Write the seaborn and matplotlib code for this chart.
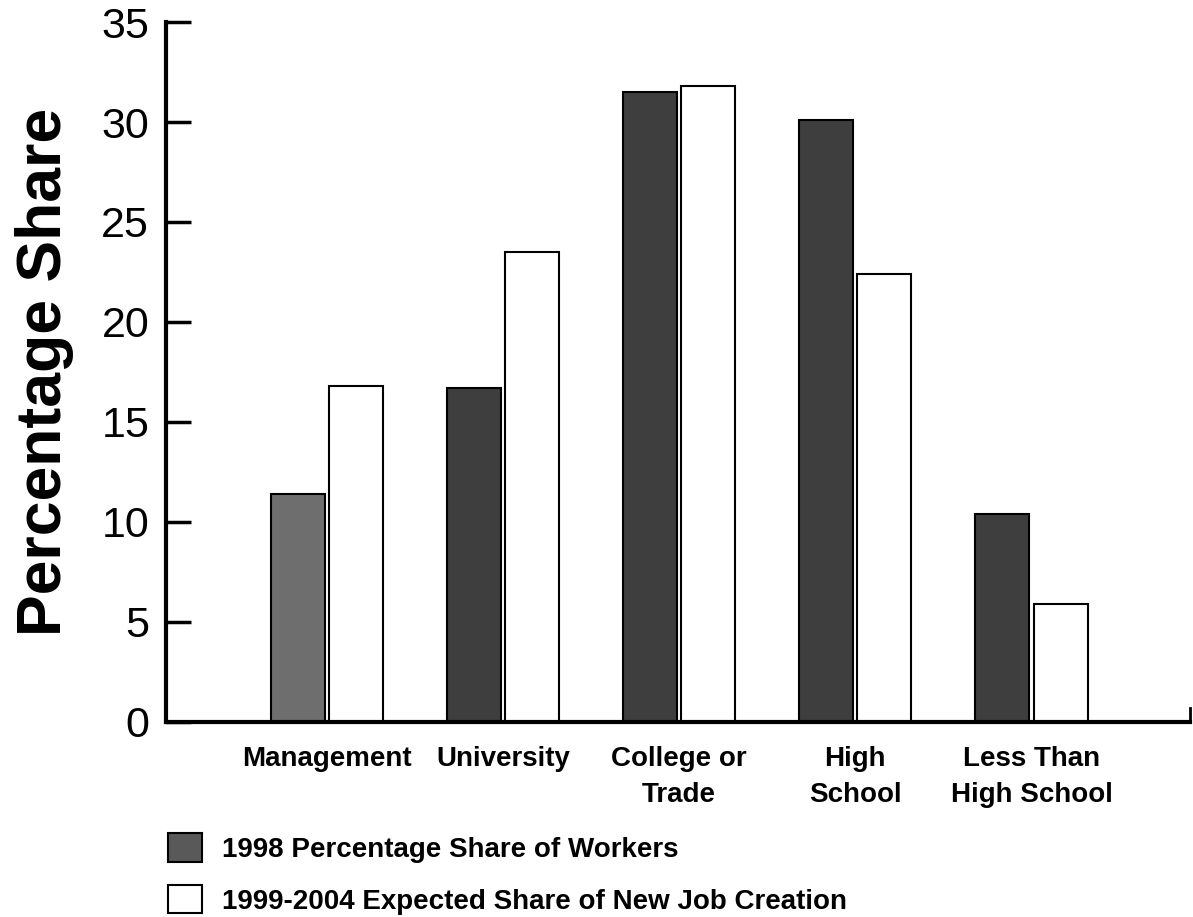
import pandas as pd
import matplotlib
matplotlib.use("Agg")
import matplotlib.pyplot as plt
import seaborn as sns

# values
categories = ["Management", "University", "College or\nTrade", "High\nSchool", "Less Than\nHigh School"]
share_1998 = [11.4, 16.7, 31.5, 30.1, 10.4]
share_new_jobs = [16.8, 23.5, 31.8, 22.4, 5.9]
series_names = ["1998 Percentage Share of Workers",
                "1999-2004 Expected Share of New Job Creation"]
y_ticks = [0, 5, 10, 15, 20, 25, 30, 35]

df = pd.DataFrame({
    "category": categories * 2,
    "share": share_1998 + share_new_jobs,
    "series": [series_names[0]] * len(categories) + [series_names[1]] * len(categories),
})

sns.set_style("white")
plt.rcParams["font.family"] = ["Liberation Sans", "DejaVu Sans"]
for key in ["text.color", "axes.labelcolor", "xtick.color", "ytick.color", "axes.edgecolor"]:
    plt.rcParams[key] = "black"

fig = plt.figure(figsize=(11.93, 9.17), dpi=100)
ax = fig.add_axes([0.139, 0.2127, 0.8585, 0.7633])

sns.barplot(data=df, x="category", y="share", hue="series",
            palette=["#3e3e3e", "white"], width=0.66, gap=0.07,
            edgecolor="black", linewidth=1.5, ax=ax)

# the management bar is printed a lighter grey in the scan
ax.patches[0].set_facecolor("#6e6e6e")

ax.set_xlim(-0.915, 4.9)
ax.set_ylim(0, 35)
ax.set_yticks(y_ticks)
ax.set_xlabel("")
ax.set_ylabel("Percentage Share", fontsize=45, fontweight="bold", labelpad=20)

ax.tick_params(axis="y", left=True, direction="in", length=18, width=2.5,
               labelsize=31, pad=12)
ax.tick_params(axis="x", length=0, labelsize=20, pad=17)
for lbl in ax.get_xticklabels():
    lbl.set_fontweight("bold")
    lbl.set_linespacing(1.5)

ax.spines["top"].set_visible(False)
ax.spines["left"].set_linewidth(3)
ax.spines["bottom"].set_linewidth(3)
ax.spines["right"].set_linewidth(2)
ax.spines["right"].set_bounds(0, 0.7)

handles, labels = ax.get_legend_handles_labels()
ax.get_legend().remove()
handles[0].set_facecolor("#595959")
fig.legend(handles, labels, loc="upper left", bbox_to_anchor=(0.1408, 0.0915),
           frameon=False, prop={"size": 20, "weight": "bold"},
           borderpad=0, borderaxespad=0,
           handlelength=1.22, handleheight=1.2, handletextpad=0.72, labelspacing=0.8)

fig.savefig("out.png", dpi=100)
